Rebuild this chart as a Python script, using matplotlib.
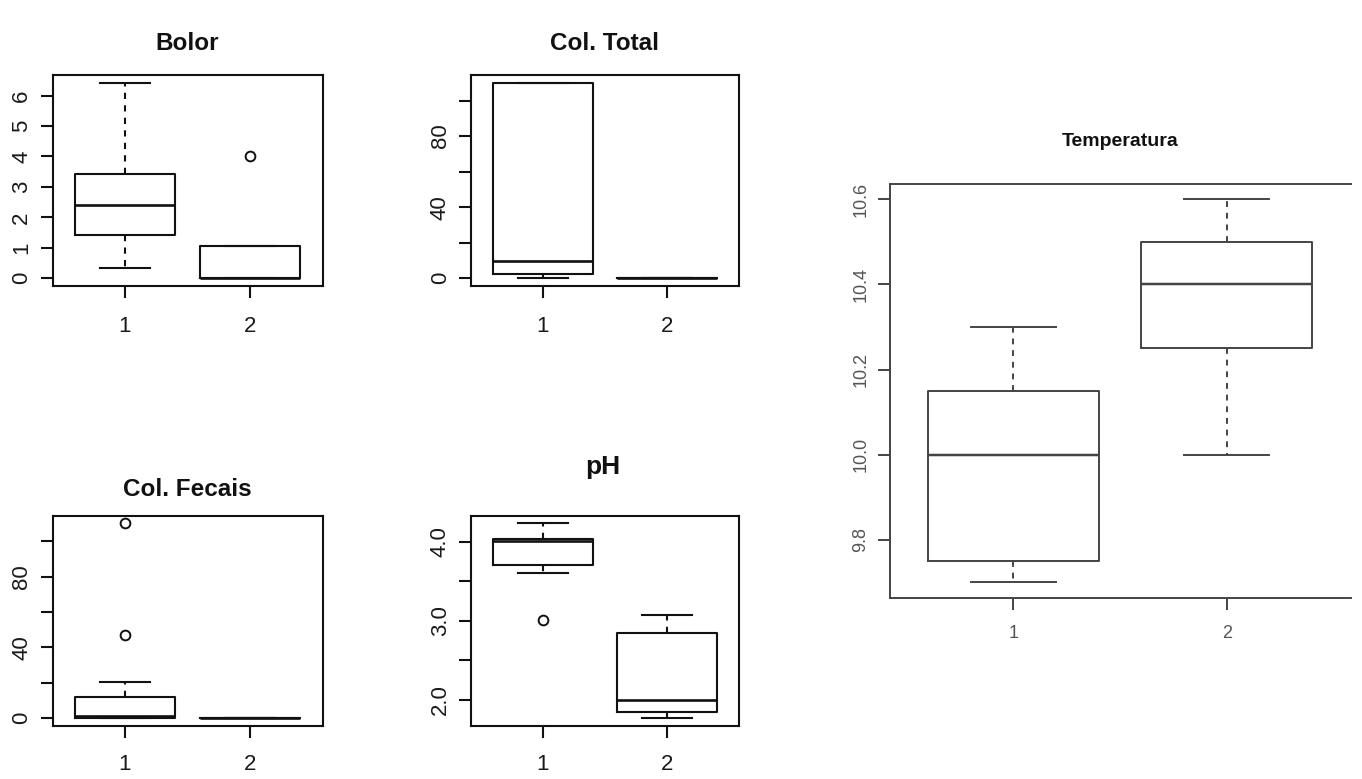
import matplotlib
matplotlib.use("Agg")
import matplotlib.pyplot as plt

plt.rcParams["font.family"] = ["Liberation Sans", "DejaVu Sans"]

# box statistics: whisker low, Q1, median, Q3, whisker high
groups = [1, 2]

bolor_lo = [0.34, 0.0]
bolor_q1 = [1.42, 0.0]
bolor_med = [2.41, 0.0]
bolor_q3 = [3.44, 1.06]
bolor_hi = [6.42, 1.06]
bolor_out = [[], [4.0]]

ctot_lo = [0.0, 0.0]
ctot_q1 = [2.1, 0.0]
ctot_med = [9.6, 0.0]
ctot_q3 = [110.0, 0.0]
ctot_hi = [110.0, 0.0]
ctot_out = [[], []]

cfec_lo = [0.0, 0.0]
cfec_q1 = [0.3, 0.0]
cfec_med = [1.0, 0.0]
cfec_q3 = [11.8, 0.0]
cfec_hi = [20.7, 0.0]
cfec_out = [[46.8, 110.0], []]

ph_lo = [3.61, 1.77]
ph_q1 = [3.71, 1.85]
ph_med = [4.01, 2.0]
ph_q3 = [4.03, 2.85]
ph_hi = [4.23, 3.07]
ph_out = [[3.01], []]

temp_lo = [9.7, 10.0]
temp_q1 = [9.75, 10.25]
temp_med = [10.0, 10.4]
temp_q3 = [10.15, 10.5]
temp_hi = [10.3, 10.6]
temp_out = [[], []]

W, H = 1362, 779
fig = plt.figure(figsize=(W / 100, H / 100), dpi=100)


def px_axes(x0, y0, x1, y1):
    return fig.add_axes([x0 / W, 1 - y1 / H, (x1 - x0) / W, (y1 - y0) / H])


def boxpanel(ax, lo, q1, med, q3, hi, out, yticks, ylabels,
             col="#111111", tcol="#1a1a1a", fs=16, lw=1.5, xpad=13):
    stats = []
    for i in range(len(groups)):
        stats.append(dict(whislo=lo[i], q1=q1[i], med=med[i], q3=q3[i],
                          whishi=hi[i], fliers=out[i], label=str(groups[i])))
    ax.bxp(stats, positions=groups, widths=0.8, capwidths=0.4,
           boxprops=dict(color=col, lw=lw),
           medianprops=dict(color=col, lw=lw + 0.4),
           whiskerprops=dict(color=col, lw=lw, linestyle=(0, (3, 3))),
           capprops=dict(color=col, lw=lw),
           flierprops=dict(marker="o", mfc="none", mec=col, ms=7, mew=1.4))
    vals = lo + hi + [v for o in out for v in o]
    vmin, vmax = min(vals), max(vals)
    pad = 0.04 * (vmax - vmin)
    ax.set_ylim(vmin - pad, vmax + pad)
    ax.set_xlim(0.42, 2.58)
    ax.set_yticks(yticks)
    ax.set_yticklabels(ylabels, rotation=90, va="center")
    ax.set_xticks(groups)
    ax.set_xticklabels([str(g) for g in groups])
    ax.tick_params(axis="both", direction="out", length=8.5, width=lw,
                   color=col, labelcolor=tcol, labelsize=fs)
    ax.tick_params(axis="x", pad=xpad)
    ax.tick_params(axis="y", pad=6)
    for s in ax.spines.values():
        s.set_color(col)
        s.set_linewidth(lw)


ax1 = px_axes(52.5, 75, 322.5, 286)
boxpanel(ax1, bolor_lo, bolor_q1, bolor_med, bolor_q3, bolor_hi, bolor_out,
         [0, 1, 2, 3, 4, 5, 6], ["0", "1", "2", "3", "4", "5", "6"])

ax2 = px_axes(471, 75, 739, 286)
boxpanel(ax2, ctot_lo, ctot_q1, ctot_med, ctot_q3, ctot_hi, ctot_out,
         [0, 20, 40, 60, 80, 100], ["0", "", "40", "", "80", ""])

ax3 = px_axes(52.5, 515.7, 322.5, 726)
boxpanel(ax3, cfec_lo, cfec_q1, cfec_med, cfec_q3, cfec_hi, cfec_out,
         [0, 20, 40, 60, 80, 100], ["0", "", "40", "", "80", ""], xpad=12)

ax4 = px_axes(471, 515.7, 739, 726)
boxpanel(ax4, ph_lo, ph_q1, ph_med, ph_q3, ph_hi, ph_out,
         [2.0, 2.5, 3.0, 3.5, 4.0], ["2.0", "", "3.0", "", "4.0"], xpad=12)

ax5 = px_axes(889.5, 184, 1350.5, 597.7)
boxpanel(ax5, temp_lo, temp_q1, temp_med, temp_q3, temp_hi, temp_out,
         [9.8, 10.0, 10.2, 10.4, 10.6], ["9.8", "10.0", "10.2", "10.4", "10.6"],
         col="#444444", tcol="#555555", fs=13, lw=1.4, xpad=11)
ax5.spines["right"].set_visible(False)

fig.text(187.5 / W, 1 - 43 / H, "Bolor", ha="center", va="center",
         fontsize=17.5, fontweight="bold", color="#111111")
fig.text(605 / W, 1 - 43 / H, "Col. Total", ha="center", va="center",
         fontsize=17.5, fontweight="bold", color="#111111")
fig.text(187.5 / W, 1 - 490 / H, "Col. Fecais", ha="center", va="center",
         fontsize=17.5, fontweight="bold", color="#111111")
fig.text(603 / W, 1 - 467 / H, "pH", ha="center", va="center",
         fontsize=19, fontweight="bold", color="#111111")
fig.text(1120 / W, 1 - 141 / H, "Temperatura", ha="center", va="center",
         fontsize=14, fontweight="bold", color="#111111")

fig.savefig("out.png", dpi=100)
